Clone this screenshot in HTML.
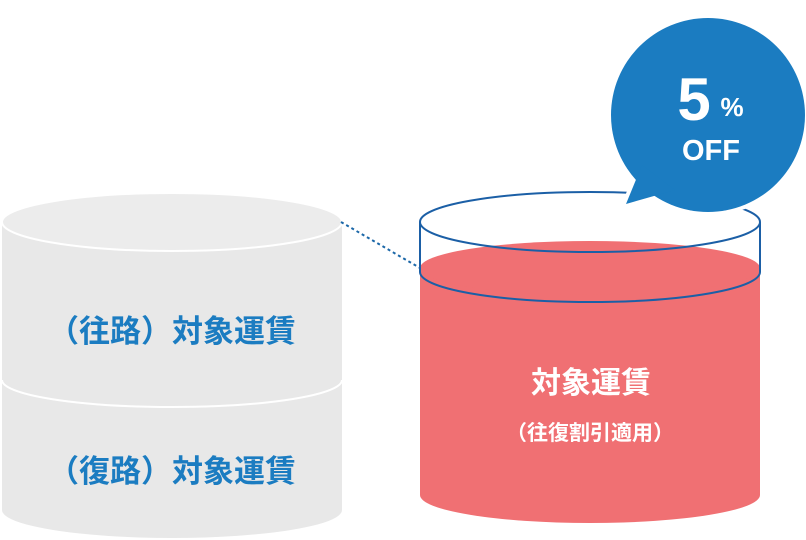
<!DOCTYPE html>
<html><head><meta charset="utf-8"><style>
html,body{margin:0;padding:0;background:#fff;}
svg{display:block;font-family:"Liberation Sans","Noto Sans CJK JP",sans-serif;}
</style></head><body>
<svg width="806" height="540" viewBox="0 0 806 540">
<path d="M2 222 L2 510 A170 28 0 0 0 342 510 L342 222 Z" fill="#e8e8e8"/>
<ellipse cx="172" cy="222" rx="170" ry="29" fill="#ececec" stroke="#fff" stroke-width="2"/>
<path d="M2 380 A170 27 0 0 0 342 380" fill="none" stroke="#fff" stroke-width="2"/>
<text x="172" y="342" text-anchor="middle" font-size="31" font-weight="bold" fill="#1b7cc1">（往路）対象運賃</text>
<text x="172" y="482" text-anchor="middle" font-size="31" font-weight="bold" fill="#1b7cc1">（復路）対象運賃</text>
<line x1="341" y1="222" x2="420" y2="268" stroke="#1b67a8" stroke-width="2" stroke-dasharray="3,3"/>
<path d="M420 268 L420 495 A170 28 0 0 0 760 495 L760 268 Z" fill="#f07073"/>
<ellipse cx="590" cy="268" rx="170" ry="27" fill="#f07073"/>
<ellipse cx="590" cy="222" rx="170" ry="30" fill="none" stroke="#1b5fa6" stroke-width="2"/>
<path d="M420 272 A170 30 0 0 0 760 272" fill="none" stroke="#1b5fa6" stroke-width="2"/>
<line x1="420" y1="222" x2="420" y2="272" stroke="#1b5fa6" stroke-width="2"/>
<line x1="760" y1="222" x2="760" y2="272" stroke="#1b5fa6" stroke-width="2"/>
<text x="591" y="393" text-anchor="middle" font-size="30" font-weight="bold" fill="#fff">対象運賃</text>
<text x="590" y="440" text-anchor="middle" font-size="21" font-weight="bold" fill="#fff">（往復割引適用）</text>
<g stroke="#fff" stroke-width="8">
<circle cx="708" cy="115" r="97" fill="#fff"/>
<path d="M626 204 L640 170 L670 190 Z" fill="#fff"/>
</g>
<circle cx="708" cy="115" r="97" fill="#1b7cc1"/>
<path d="M626 204 L642 165 L675 190 Z" fill="#1b7cc1"/>
<text x="694" y="120" text-anchor="middle" font-size="60" font-weight="bold" fill="#fff">5</text>
<text x="732" y="116" text-anchor="middle" font-size="26" font-weight="bold" fill="#fff">%</text>
<text x="711" y="160" text-anchor="middle" font-size="29" font-weight="bold" fill="#fff">OFF</text>
</svg>
</body></html>
